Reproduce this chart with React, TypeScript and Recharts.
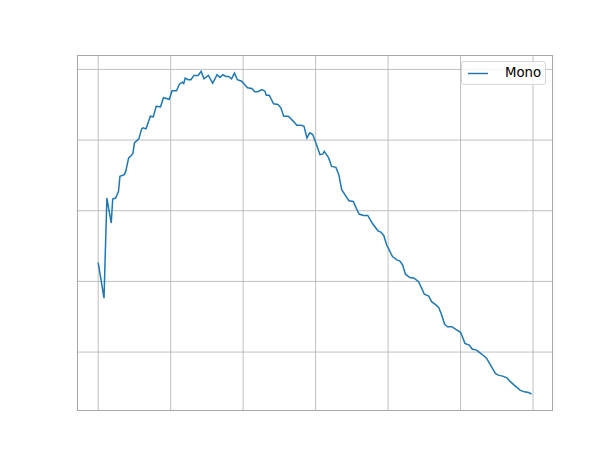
import { Line, LineChart, ReferenceLine, XAxis, YAxis } from 'recharts';

// values (x: step, y: arbitrary units, grid every 10)
const steps = [
  0, 4, 6, 9, 10, 12, 14, 15, 18, 19, 21, 23, 24, 25, 28, 30, 31, 33, 36, 38,
  40, 43, 45, 49, 51, 54, 56, 58, 59, 60, 62, 64, 66, 69, 71, 73, 76, 77, 79, 82,
  84, 86, 88, 90, 92, 94, 96, 99, 101, 103, 106, 108, 110, 113, 115, 116, 118, 121, 124, 126,
  128, 131, 132, 135, 137, 140, 142, 144, 146, 148, 151, 153, 155, 156, 159, 161, 164, 166, 168, 171,
  173, 176, 178, 180, 183, 186, 189, 193, 195, 197, 199, 203, 206, 208, 210, 212, 215, 218, 221, 223,
  225, 228, 230, 233, 235, 237, 239, 241, 244, 247, 250, 251, 253, 256, 258, 261, 263, 266, 268, 270,
  272, 274, 276, 279, 282, 284, 287, 291, 294, 297, 299,
];

const mono = [
  22.67, 17.62, 31.8, 28.26, 31.66, 31.8, 32.74, 34.87, 35.11, 35.57, 37.48, 37.84, 38.18, 39.6, 40.17, 41.59, 41.73, 41.59, 43.38, 43.29,
  44.79, 44.71, 45.99, 45.77, 46.98, 46.98, 47.91, 48.2, 48.01, 48.77, 48.54, 48.54, 49.15, 49.15, 49.72, 48.68, 49.15, 48.77, 48.06, 49.25,
  48.87, 49.25, 49.0, 49.0, 48.68, 49.48, 48.54, 48.34, 47.87, 47.4, 47.3, 46.84, 46.84, 47.16, 46.92, 46.35, 46.35, 45.13, 45.04, 44.57,
  43.38, 43.38, 43.23, 42.58, 42.1, 42.1, 41.96, 40.31, 41.02, 40.78, 39.12, 37.94, 38.04, 38.41, 37.48, 36.28, 36.14, 35.11, 32.98, 32.03,
  31.42, 31.32, 30.38, 29.53, 29.33, 29.33, 28.26, 27.16, 26.98, 26.5, 25.18, 23.52, 23.05, 22.91, 22.34, 21.02, 20.54, 20.45, 19.97, 19.12,
  18.18, 17.94, 17.13, 16.67, 16.28, 15.25, 13.93, 13.59, 13.59, 13.19, 12.79, 12.31, 11.23, 10.99, 10.43, 10.28, 9.96, 9.48, 9.11, 8.4,
  7.69, 6.98, 6.74, 6.6, 6.35, 5.89, 5.32, 4.61, 4.37, 4.28, 4.04,
];

const xTicks = [0, 50, 100, 150, 200, 250, 300];
const yTicks = [10, 20, 30, 40, 50];

const data = steps.map((s, i) => ({ step: s, mono: mono[i] }));

const FONT = '"DejaVu Sans", sans-serif';
const GRID = '#b0b0b0';

export default function App() {
  return (
    <div style={{ position: 'absolute', left: 0, top: 0, width: 614, height: 461, background: '#fff' }}>
      <LineChart
        width={614}
        height={461}
        data={data}
        margin={{ top: 55.3, right: 61.4, bottom: 50.7, left: 76.8 }}
      >
        <XAxis dataKey="step" type="number" domain={[-14.77, 313.5]} ticks={xTicks} hide />
        <YAxis type="number" domain={[1.76, 52.0]} ticks={yTicks} hide />
        {xTicks.map((t) => (
          <ReferenceLine key={`gx-${t}`} x={t} stroke={GRID} strokeWidth={0.8} />
        ))}
        {yTicks.map((t) => (
          <ReferenceLine key={`gy-${t}`} y={t} stroke={GRID} strokeWidth={0.8} />
        ))}
        <Line
          dataKey="mono"
          stroke="#1f77b4"
          strokeWidth={1.5}
          dot={false}
          isAnimationActive={false}
        />
      </LineChart>
      {/* axes frame */}
      <div
        style={{
          position: 'absolute',
          left: 76.5,
          top: 55,
          width: 476.5,
          height: 355.5,
          boxSizing: 'border-box',
          border: '1px solid #a8a8a8',
          pointerEvents: 'none',
        }}
      />
      <div
        style={{
          position: 'absolute',
          left: 461,
          top: 61,
          width: 85,
          height: 24,
          boxSizing: 'border-box',
          border: '1px solid #d6d6d6',
          borderRadius: 3,
          background: 'rgba(255,255,255,0.8)',
          fontFamily: FONT,
          fontSize: 13.3,
          color: '#000',
        }}
      >
        <svg width={30} height={22} style={{ position: 'absolute', left: 5, top: 0 }}>
          <line x1={1} x2={21} y1={11.5} y2={11.5} stroke="#1f77b4" strokeWidth={1.45} />
        </svg>
        <span style={{ position: 'absolute', left: 43, top: 3, lineHeight: '16px' }}>Mono</span>
      </div>
    </div>
  );
}
